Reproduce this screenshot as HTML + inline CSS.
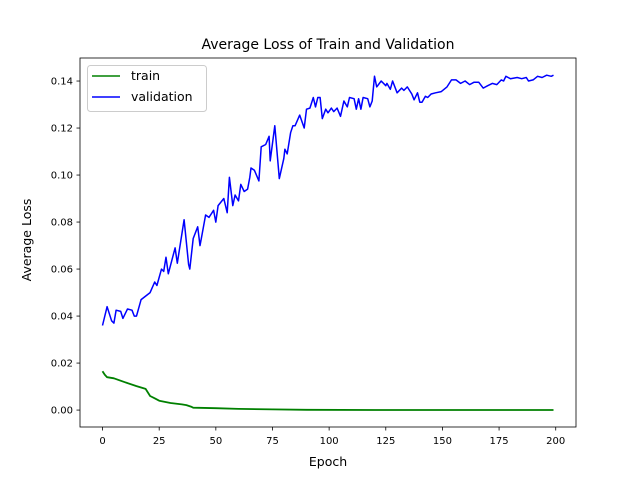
<!DOCTYPE html>
<html><head><meta charset="utf-8"><style>
body{margin:0;background:#fff;font-family:"Liberation Sans","DejaVu Sans",sans-serif}
svg text{font-family:"DejaVu Sans","Liberation Sans",sans-serif}
</style></head><body>
<svg id="chart" width="640" height="480" xmlns="http://www.w3.org/2000/svg"></svg>
<script>
const valEpochs=[0,2,4,5,6,8,9,11,13,14,15,17,19,21,23,24,26,27,28,29,32,33,36,38,38.5,40,42,43,44,45.5,47,49,50,51,53.5,55,56,57.5,58.5,60,61,62.5,64,65,65.5,67,69,70,72,73.5,74,76,78,80,80.5,81.5,83,84,85,87,89,90,91.5,93,94,95,96,97,98.5,99.5,101,102,103.5,105,106.5,108,109,111,112,113,114,115,117,118,119,120,121,123,125,125.5,127,128,130,132,133,134.5,136.5,137.5,139,140,141,142.5,143.5,145,147,149.5,152,154,156,158,160,162,164,166,168,170,172,174,176,177,178,180,183,185,187,188,190,192,194,196,198,199];
const valValues=[0.036,0.044,0.038,0.037,0.0425,0.042,0.039,0.043,0.0425,0.040,0.040,0.047,0.0485,0.050,0.0545,0.053,0.060,0.059,0.065,0.058,0.069,0.0625,0.081,0.062,0.060,0.073,0.078,0.070,0.075,0.083,0.082,0.085,0.080,0.087,0.090,0.084,0.099,0.087,0.0915,0.089,0.096,0.093,0.094,0.099,0.103,0.102,0.0975,0.112,0.113,0.1165,0.106,0.121,0.0985,0.107,0.111,0.109,0.118,0.121,0.121,0.1255,0.120,0.128,0.1285,0.133,0.129,0.133,0.133,0.124,0.128,0.1265,0.1285,0.127,0.1285,0.125,0.1315,0.129,0.133,0.1325,0.128,0.1325,0.128,0.133,0.1325,0.129,0.1315,0.142,0.1375,0.140,0.138,0.139,0.1365,0.140,0.135,0.137,0.136,0.1375,0.1345,0.132,0.135,0.131,0.131,0.1335,0.133,0.1345,0.135,0.1355,0.1375,0.1405,0.1405,0.139,0.140,0.1385,0.1395,0.1395,0.137,0.138,0.139,0.1385,0.1405,0.140,0.142,0.141,0.1415,0.141,0.1415,0.140,0.1405,0.142,0.1415,0.1425,0.142,0.1425];
const trainEpochs=[0,1,2,5,10,15,19,20,21,23,25,30,35,37,39,40,50,60,75,90,120,199];
const trainValues=[0.0165,0.015,0.014,0.0135,0.0118,0.0102,0.009,0.0075,0.006,0.005,0.004,0.003,0.0024,0.0021,0.0015,0.001,0.0008,0.0005,0.0003,0.0001,0.00005,0.00002];
const xTicks=[0,25,50,75,100,125,150,175,200];
const yTicks=[0,0.02,0.04,0.06,0.08,0.10,0.12,0.14];
const yTickLabels=["0.00","0.02","0.04","0.06","0.08","0.10","0.12","0.14"];

const L=80,R=576,T=58,B=427;
const xMin=-9.95,xMax=208.95,yMin=-0.0072,yMax=0.1498;
const X=v=>L+(v-xMin)/(xMax-xMin)*(R-L);
const Y=v=>B-(v-yMin)/(yMax-yMin)*(B-T);
const svg=document.getElementById('chart');
const NS='http://www.w3.org/2000/svg';
function mk(tag,attrs,parent){const e=document.createElementNS(NS,tag);for(const k in attrs)e.setAttribute(k,attrs[k]);(parent||svg).appendChild(e);return e;}

const title=mk('text',{x:328,y:49,'text-anchor':'middle','font-size':14});
title.textContent='Average Loss of Train and Validation';



function line(xs,ys,color,name,w){
  const d=xs.map((x,i)=>(i?'L':'M')+X(x).toFixed(1)+','+Y(ys[i]).toFixed(1)).join('');
  const p=mk('path',{d:d,fill:'none',stroke:color,'stroke-width':w,'stroke-linejoin':'round'});
  
  
}
line(trainEpochs,trainValues,'#008000','train-line',1.8);
line(valEpochs,valValues,'#0000ff','validation-line',1.5);

xTicks.forEach(t=>{
  const g=mk('g',{});
  
  
  mk('line',{x1:X(t),x2:X(t),y1:B,y2:B+3.5,stroke:'#000','stroke-width':0.8},g);
  const tx=mk('text',{x:X(t),y:B+17,'text-anchor':'middle','font-size':10},g);
  tx.textContent=t;
});
yTicks.forEach((t,i)=>{
  const g=mk('g',{});
  
  
  mk('line',{x1:L-3.5,x2:L,y1:Y(t),y2:Y(t),stroke:'#000','stroke-width':0.8},g);
  const tx=mk('text',{x:L-7,y:Y(t)+3.5,'text-anchor':'end','font-size':10},g);
  tx.textContent=yTickLabels[i];
});
const frame=mk('rect',{x:L,y:T,width:R-L,height:B-T,fill:'none',stroke:'#000','stroke-width':0.8});



const xl=mk('text',{x:328,y:466,'text-anchor':'middle','font-size':12.5});
xl.textContent='Epoch';


const yl=mk('text',{x:31,y:240,'text-anchor':'middle','font-size':12.5,transform:'rotate(-90 31 240)'});
yl.textContent='Average Loss';



const lg=mk('g',{});


mk('rect',{x:87.5,y:65.5,width:119,height:46,rx:3,fill:'#fff','fill-opacity':0.8,stroke:'#ccc','stroke-width':1},lg);
const e1=mk('g',{},lg);


mk('line',{x1:92,x2:120,y1:76,y2:76,stroke:'#008000','stroke-width':1.5},e1);
mk('text',{x:131,y:80,'font-size':12.5},e1).textContent='train';
const e2=mk('g',{},lg);


mk('line',{x1:92,x2:120,y1:97,y2:97,stroke:'#0000ff','stroke-width':1.5},e2);
mk('text',{x:131,y:101,'font-size':12.5},e2).textContent='validation';
</script>
</body></html>
